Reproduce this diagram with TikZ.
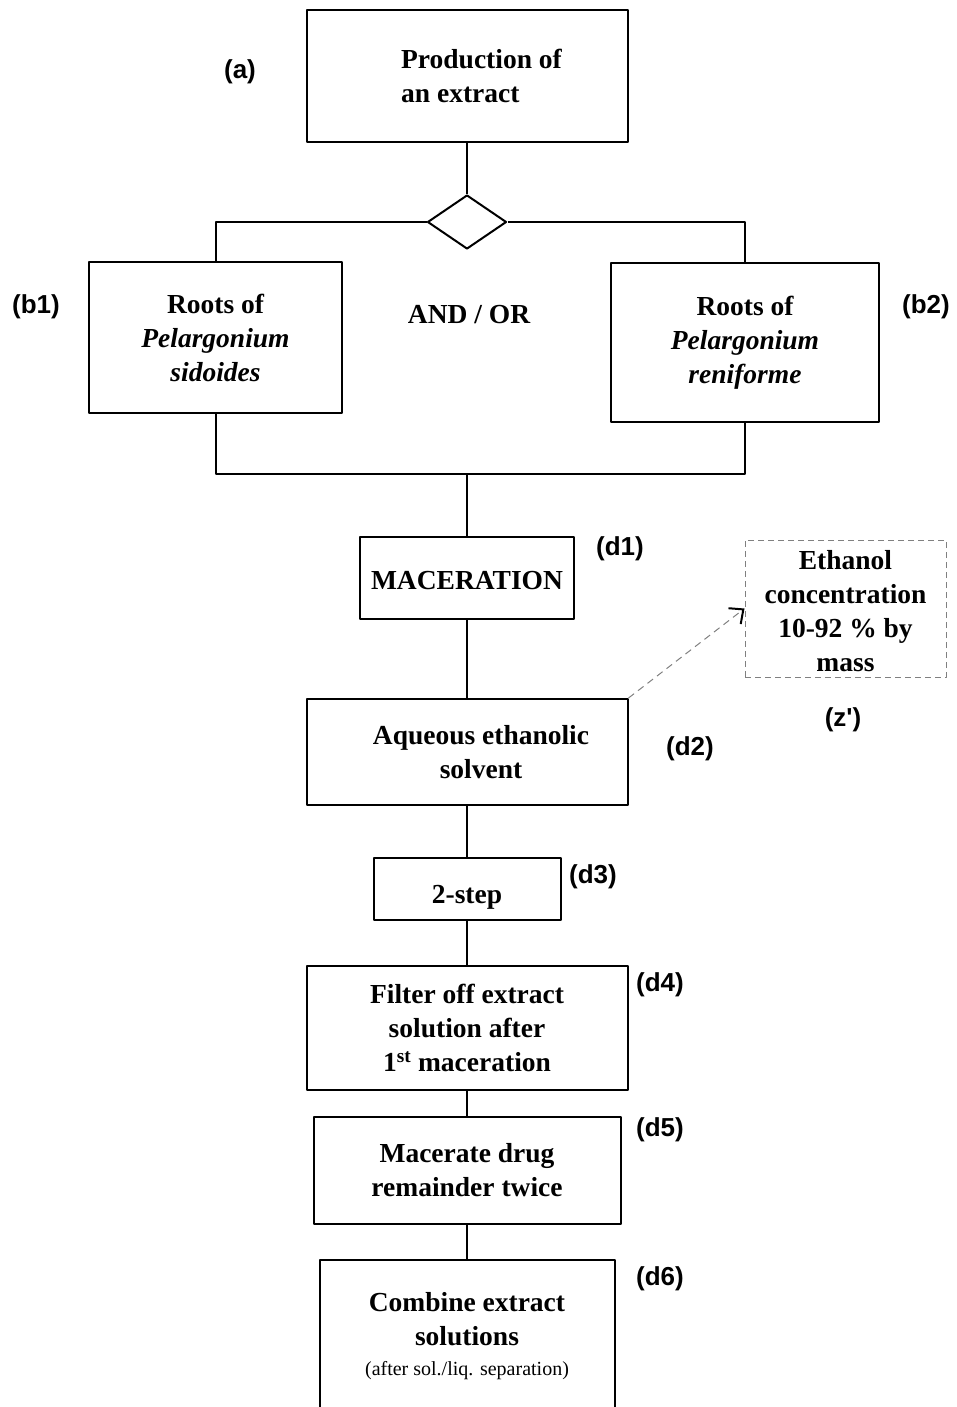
\documentclass[tikz,border=0pt]{standalone}
\usepackage{fontspec}
\setmainfont{Liberation Serif}
\newfontfamily\tagfont{Liberation Sans}
\usetikzlibrary{shapes.geometric,arrows.meta}
\tikzset{
  box/.style={draw,line width=2pt,inner sep=0pt,align=center},
  txt/.style={font=\fontsize{27.5}{34}\selectfont\bfseries},
  tag/.style={font=\tagfont\fontsize{26}{30}\selectfont\bfseries},
  link/.style={line width=2pt},
}
\begin{document}
\begin{tikzpicture}[x=1pt,y=-1pt,line join=round]
  \useasboundingbox (0,0) rectangle (956,1407);
  \clip (0,0) rectangle (956,1407);
  % main column
  \node[box,minimum width=321,minimum height=132] (prod) at (467,76) {};
  \node[txt,align=left] (prodtxt) at (481.5,76) {Production of\\an extract};
  \node[diamond,draw,link,minimum width=79,minimum height=54,inner sep=0pt] (split) at (467,222) {};
  \node[box,txt,minimum width=253,minimum height=151] (b1) at (215.5,337.5) {Roots of\\\textit{Pelargonium}\\\textit{sidoides}};
  \node[box,txt,minimum width=268,minimum height=159] (b2) at (745,342.5) {Roots of\\\textit{Pelargonium}\\\textit{reniforme}};
  \node[txt] (andor) at (469,315) {AND / OR};
  \coordinate (merge) at (467,474);
  \node[box,txt,minimum width=214,minimum height=82,text height=26pt,text depth=3pt] (mac) at (467,578) {MACERATION};
  \node[box,minimum width=321,minimum height=106] (solv) at (467,752) {};
  \node[txt,align=center] (solvtxt) at (481,752) {Aqueous ethanolic\\solvent};
  \node[box,txt,minimum width=187,minimum height=62,text height=34pt,text depth=6pt] (twostep) at (467,889) {2-step};
  \node[box,txt,minimum width=321,minimum height=124] (filter) at (467,1028) {Filter off extract\\solution after\\1\textsuperscript{st} maceration};
  \node[box,txt,minimum width=307,minimum height=107] (remac) at (467,1170.5) {Macerate drug\\remainder twice};
  \node[box,txt,minimum width=295,minimum height=152] (combine) at (467,1336) {Combine extract\\solutions\\[-4pt]{\fontsize{20}{24}\selectfont\mdseries (after sol./liq. separation)}};
  % side note
  \node[txt,draw=gray,dash pattern=on 6pt off 4pt,line width=1pt,align=center,inner sep=0pt,minimum width=201,minimum height=137] (ethanol) at (845.5,608.5) {\\[-10pt]Ethanol\\concentration\\10-92 \% by\\mass};
  % connectors
  \draw[link] (prod) -- (split);
  \draw[link] (split.west) -| (b1.north);
  \draw[link] (split.east) -| (b2.north);
  \draw[link] (b1.south) |- (merge) -| (b2.south);
  \draw[link] (merge) -- (mac);
  \draw[link] (mac) -- (solv);
  \draw[link] (solv) -- (twostep);
  \draw[link] (twostep) -- (filter);
  \draw[link] (filter) -- (remac);
  \draw[link] (remac) -- (combine);
  \draw[gray,line width=1pt,dash pattern=on 7pt off 5pt,-{Straight Barb[length=11pt,width=20pt,black,line width=2pt]}] (solv.north east) -- (ethanol.west);
  % tags
  \foreach \p/\x/\y in {a/240/72, b1/36/307, b2/926/307, d1/620/549, d2/690/749, d3/593/877, d4/660/985, d5/660/1130, d6/660/1279}
    \node[tag] (tag-\p) at (\x,\y) {(\p)};
  \node[tag] (tag-z) at (843,720) {(z')};
\end{tikzpicture}
\end{document}
